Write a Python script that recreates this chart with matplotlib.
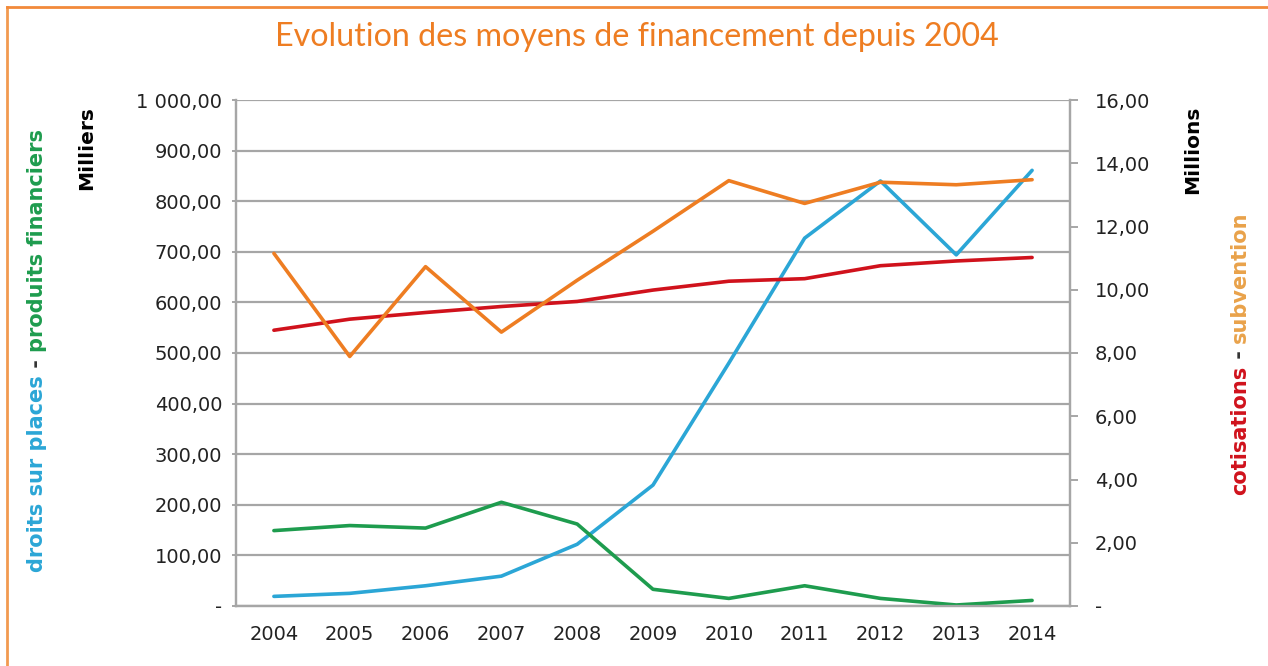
import matplotlib.pyplot as plt
import numpy as np
from matplotlib.lines import Line2D

years = ['2004', '2005', '2006', '2007', '2008', '2009', '2010', '2011', '2012', '2013', '2014']

# axe gauche (milliers)
droits_places = [19, 25, 40, 59, 122, 239, 480, 727, 840, 694, 861]
produits_fin = [149, 159, 154, 205, 162, 33, 15, 40, 15, 2, 11]

# axe droit (millions)
cotisations = [8.72, 9.07, 9.28, 9.47, 9.63, 9.99, 10.27, 10.35, 10.76, 10.91, 11.02]
subvention = [11.15, 7.89, 10.73, 8.66, 10.3, 11.85, 13.45, 12.73, 13.4, 13.32, 13.48]

left_ticks = [0, 100, 200, 300, 400, 500, 600, 700, 800, 900, 1000]
left_labels = ['-', '100,00', '200,00', '300,00', '400,00', '500,00', '600,00',
               '700,00', '800,00', '900,00', '1 000,00']
right_ticks = [0, 2, 4, 6, 8, 10, 12, 14, 16]
right_labels = ['-', '2,00', '4,00', '6,00', '8,00', '10,00', '12,00', '14,00', '16,00']

c_blue = '#2BA6D6'
c_green = '#1E9C4E'
c_red = '#D0121C'
c_orange = '#EE7D22'
c_sub = '#E9A24A'
c_grid = '#A6A6A6'

plt.rcParams['font.family'] = ['DejaVu Sans']

W, H = 1268, 666
fig = plt.figure(figsize=(W / 100, H / 100), dpi=100)
ax = fig.add_axes([236 / W, 1 - 606 / H, (1070 - 236) / W, (606 - 100) / H])
ax2 = ax.twinx()

x = np.arange(len(years))

ax.plot(x, droits_places, color=c_blue, lw=2.6, solid_capstyle='round', zorder=3)
ax.plot(x, produits_fin, color=c_green, lw=2.6, solid_capstyle='round', zorder=3)
ax2.plot(x, cotisations, color=c_red, lw=2.6, solid_capstyle='round')
ax2.plot(x, subvention, color=c_orange, lw=2.6, solid_capstyle='round')

ax.set_xlim(-0.5, len(years) - 0.5)
ax.set_ylim(0, 1000)
ax2.set_ylim(0, 16)

ax.set_xticks(x)
ax.set_xticklabels(years, fontsize=14, color='#222222')
ax.set_yticks(left_ticks)
ax.set_yticklabels(left_labels, fontsize=14, color='#222222')
ax2.set_yticks(right_ticks)
ax2.set_yticklabels(right_labels, fontsize=14, color='#222222')

ax.grid(axis='y', color=c_grid, lw=1.6)
ax.set_axisbelow(True)
ax.tick_params(axis='x', length=0, pad=14)
ax.tick_params(axis='y', length=3, color=c_grid, width=1.4, pad=7)
ax2.tick_params(axis='y', length=6, color=c_grid, width=1.4, pad=12)

for a in (ax, ax2):
    a.spines['top'].set_visible(False)
    for s in ('left', 'right', 'bottom'):
        a.spines[s].set_color(c_grid)
        a.spines[s].set_linewidth(1.6)

# titre
fig.text(637 / W, 1 - 37 / H, 'Evolution des moyens de financement depuis 2004',
         ha='center', va='center', fontsize=23.2, color=c_orange, family='Lato')

# unités
fig.text(87 / W, 1 - 148 / H, 'Milliers', rotation=90, ha='center', va='center',
         fontsize=14.5, fontweight='bold', color='black')
fig.text(1193 / W, 1 - 150 / H, 'Millions', rotation=90, ha='center', va='center',
         fontsize=14.5, fontweight='bold', color='black')


# libellés multicolores verticaux
def vertical_label(xc, y_bottom, parts):
    renderer = fig.canvas.get_renderer()
    y = y_bottom
    for txt, col in parts:
        t = fig.text(xc / W, y, txt, rotation=90, ha='center', va='bottom',
                     fontsize=15, fontweight='bold', color=col)
        bb = t.get_window_extent(renderer)
        y = bb.y1 / H


vertical_label(37, 1 - 572 / H, [('droits sur places', c_blue), (' - ', '#333333'),
                                 ('produits financiers', c_green)])
vertical_label(1240, 1 - 495 / H, [('cotisations', c_red), (' - ', '#333333'),
                                   ('subvention', c_sub)])

# cadre orange
fig.add_artist(Line2D([7 / W, 7 / W], [0, 1 - 7 / H], color='#F29A50', lw=2))
fig.add_artist(Line2D([7 / W, 1], [1 - 7 / H, 1 - 7 / H], color='#F28A3A', lw=2))

fig.savefig('out.png', dpi=100)
